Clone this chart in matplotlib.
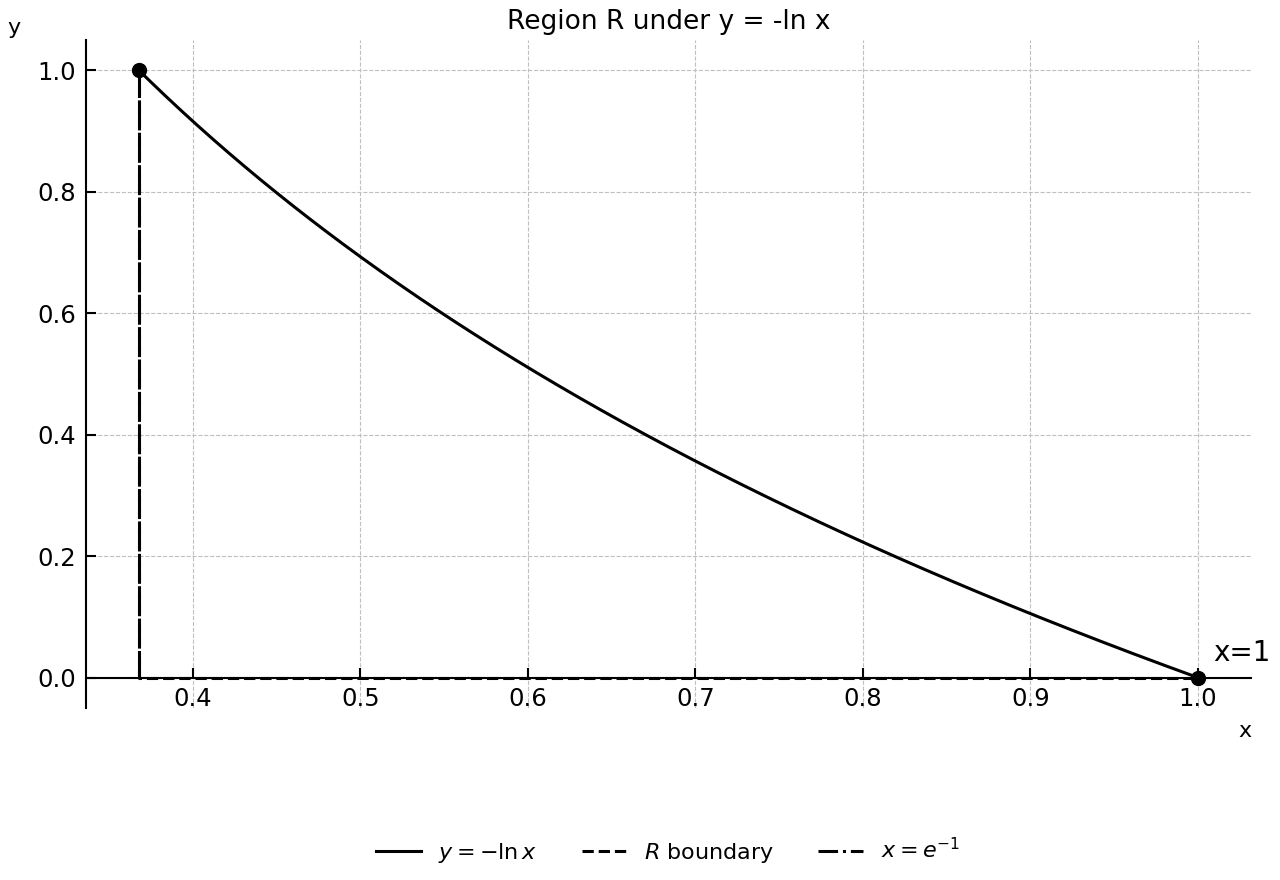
import numpy as np
import matplotlib
matplotlib.use("Agg")
import matplotlib.pyplot as plt

# Data
x_start = np.exp(-1.0)
x_end = 1.0
curve_x = np.linspace(x_start, x_end, 400)
curve_y = -np.log(curve_x)
boundary_x = [x_start, x_start, x_end]
boundary_y = [1.0, 0.0, 0.0]
vline_x = [x_start, x_start]
vline_y = [0.0, 1.0]
points_x = [x_start, x_end]
points_y = [1.0, 0.0]
xticks = [0.4, 0.5, 0.6, 0.7, 0.8, 0.9, 1.0]
yticks = [0.0, 0.2, 0.4, 0.6, 0.8, 1.0]

fig = plt.figure(figsize=(12.8, 8.8), dpi=100)
ax = fig.add_axes([86/1280, 1-708/880, (1251-86)/1280, (708-40)/880])

ax.plot(curve_x, curve_y, color='black', lw=2.2, label=r'$y=-\ln x$', zorder=3)
ax.plot(boundary_x, boundary_y, color='black', lw=2.2, ls='--', label=r'$R$ boundary', zorder=3)
ax.plot(vline_x, vline_y, color='black', lw=2.2, ls='-.', label=r'$x=e^{-1}$', zorder=3)
ax.plot(points_x, points_y, 'o', color='black', ms=10, zorder=4)

ax.margins(0.05)
ax.set_xticks(xticks)
ax.set_yticks(yticks)
ax.grid(True, ls='--', color='#bfbfbf', lw=0.8)

ax.spines['top'].set_visible(False)
ax.spines['right'].set_visible(False)
ax.spines['bottom'].set_position(('data', 0))
ax.spines['left'].set_linewidth(1.5)
ax.spines['bottom'].set_linewidth(1.5)
ax.tick_params(direction='in', length=7, width=1.5, labelsize=17.5)
ax.tick_params(axis='x', pad=7)
ax.tick_params(axis='y', pad=7)

ax.text(1.009, 0.04, 'x=1', fontsize=20, ha='left', va='center')

ax.set_title('Region R under y = -ln x', fontsize=19, pad=8)
ax.set_xlabel('x', fontsize=16)
ax.xaxis.set_label_coords(1.0, -0.02)
ax.xaxis.label.set_horizontalalignment('right')
ax.xaxis.label.set_verticalalignment('top')
fig.text(14/1280, 1-28/880, 'y', fontsize=16, ha='center', va='center')

fig.legend(loc='center', bbox_to_anchor=(668/1280, 1-851/880), ncol=3,
           frameon=False, fontsize=16, handlelength=2.0, columnspacing=2.0)

fig.savefig('out.png', dpi=100)
